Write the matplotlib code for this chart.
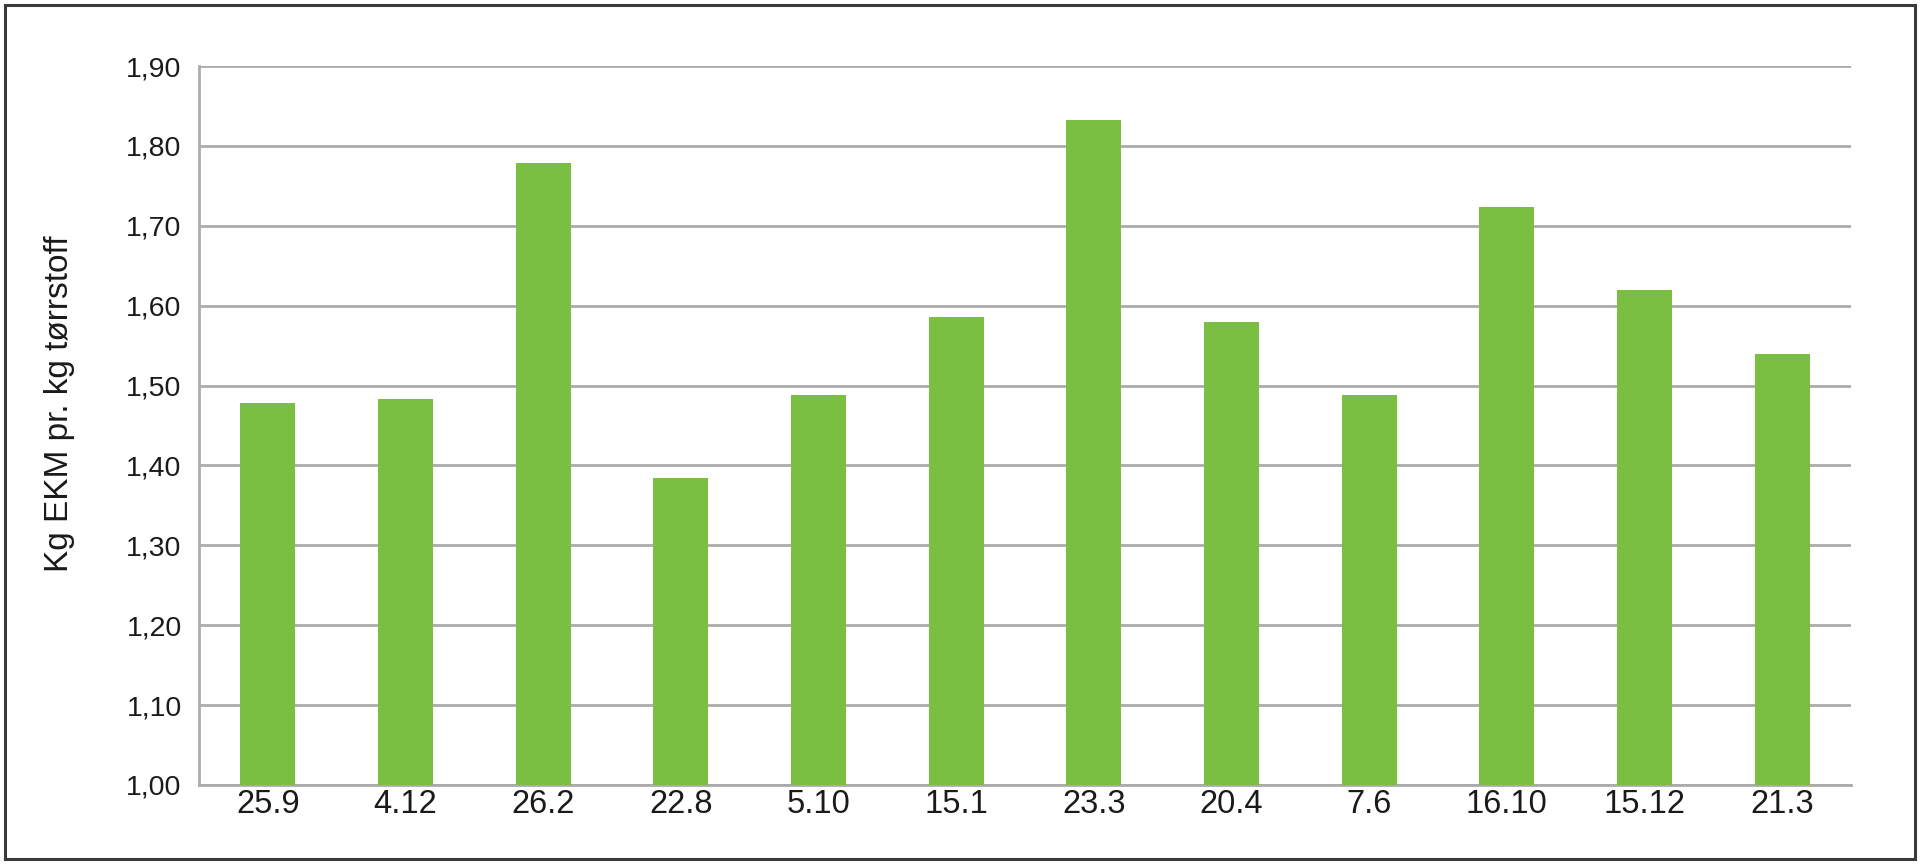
import matplotlib
matplotlib.use("Agg")
import matplotlib.pyplot as plt
from matplotlib.patches import Rectangle
from matplotlib.ticker import FixedLocator, FuncFormatter

categories = ["25.9", "4.12", "26.2", "22.8", "5.10", "15.1", "23.3",
              "20.4", "7.6", "16.10", "15.12", "21.3"]
values = [1.478, 1.483, 1.779, 1.384, 1.488, 1.586, 1.832,
          1.580, 1.488, 1.723, 1.620, 1.540]
y_ticks = [1.0, 1.1, 1.2, 1.3, 1.4, 1.5, 1.6, 1.7, 1.8, 1.9]
y_label = "Kg EKM pr. kg tørrstoff"

plt.rcParams['font.family'] = ['Liberation Sans', 'DejaVu Sans']

fig = plt.figure(figsize=(19.2, 8.64), dpi=100)
ax = fig.add_axes([199/1920, 1-785/864, (1851-199)/1920, (785-66)/864])

grid_c = "#ABABAB"
txt_c = "#1a1a1a"
x = list(range(len(categories)))
ax.bar(x, values, width=0.4, bottom=0, color="#7BBF42", zorder=3)
ax.set_xlim(-0.5, len(categories) - 0.5)
ax.set_ylim(1.0, 1.9)
ax.yaxis.set_major_locator(FixedLocator(y_ticks))
ax.yaxis.set_major_formatter(FuncFormatter(lambda v, p: f"{v:.2f}".replace(".", ",")))
ax.set_xticks(x)
ax.set_xticklabels(categories)
ax.grid(axis='y', color=grid_c, linewidth=2, zorder=0)
ax.set_axisbelow(True)
for s in ["top", "right"]:
    ax.spines[s].set_visible(False)
for s in ["left", "bottom"]:
    ax.spines[s].set_color(grid_c)
    ax.spines[s].set_linewidth(2)
ax.tick_params(axis='both', length=0, colors=txt_c)
ax.tick_params(axis='y', pad=12.5, labelsize=20.5)
ax.tick_params(axis='x', pad=3, labelsize=23.5)

fig.text(60/1920, 1-404/864, y_label, rotation=90, ha='center', va='center',
         fontsize=24, color=txt_c)

fig.patches.append(Rectangle((5/1920, 5/864), 1910/1920, 854/864,
                             transform=fig.transFigure, fill=False,
                             edgecolor="#3a3a3a", linewidth=2.2))

fig.savefig("out.png", dpi=100, facecolor="white")
